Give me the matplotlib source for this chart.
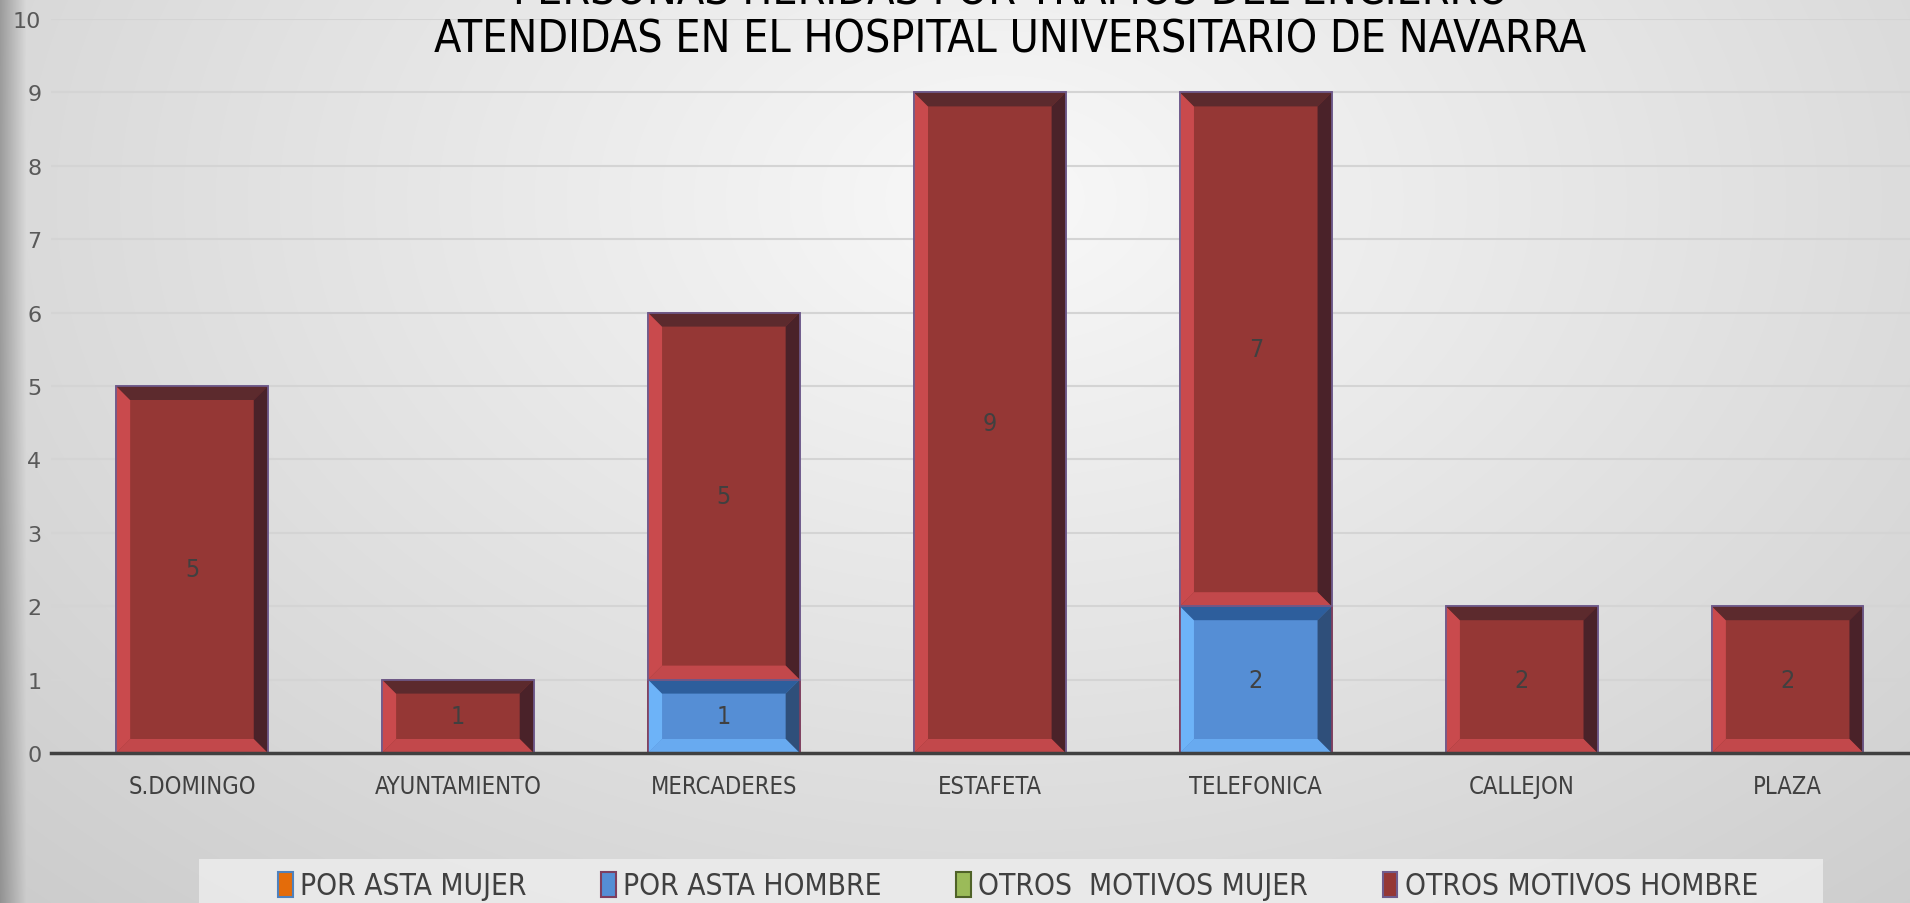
import numpy as np
import matplotlib
matplotlib.use('Agg')
import matplotlib.pyplot as plt
from matplotlib.patches import Polygon, Rectangle
from matplotlib import font_manager

categories = ['S.DOMINGO', 'AYUNTAMIENTO', 'MERCADERES', 'ESTAFETA',
              'TELEFONICA', 'CALLEJON', 'PLAZA']
por_asta_mujer = [0, 0, 0, 0, 0, 0, 0]
por_asta_hombre = [0, 0, 1, 0, 2, 0, 0]
otros_mujer = [0, 0, 0, 0, 0, 0, 0]
otros_hombre = [5, 1, 5, 9, 7, 2, 2]

series_names = ['POR ASTA MUJER', 'POR ASTA HOMBRE', 'OTROS  MOTIVOS MUJER', 'OTROS MOTIVOS HOMBRE']
title_lines = ['PERSONAS HERIDAS POR TRAMOS DEL ENCIERRO',
               'ATENDIDAS EN EL HOSPITAL UNIVERSITARIO DE NAVARRA']

# face, left, top, right, bottom, edge
styles = [
    ('#e46c0a', '#f79646', '#8a3f05', '#6b3004', '#f5a060', '#4f81bd'),
    ('#558ed5', '#6db3f8', '#2d5e9c', '#2f4f7a', '#68aaf0', '#7f3f5f'),
    ('#9bbb59', '#b5d26f', '#5d7a2a', '#4e6624', '#b0cd6a', '#4f6228'),
    ('#953735', '#c94a4d', '#5c2a2d', '#4a2229', '#c2484b', '#6f5b8c'),
]

# condensed face for the labels, if there is one
cond = [f for f in font_manager.fontManager.ttflist
        if 'condensed' in str(f.stretch).lower() or 'narrow' in f.name.lower()
        or 'condensed' in f.name.lower()]
fam = cond[0].name if cond else 'DejaVu Sans'
stretch = cond[0].stretch if cond else 'normal'
plt.rcParams['font.family'] = [fam, 'DejaVu Sans']
plt.rcParams['font.stretch'] = stretch

W, H = 1910, 904
fig = plt.figure(figsize=(W / 100, H / 100), dpi=100)

# background gradient
bg_ax = fig.add_axes([0, 0, 1, 1], zorder=-10)
yy, xx = np.mgrid[0:H, 0:W]
r = np.sqrt(((xx - 1000) / 1300.0) ** 2 + ((yy - 200) / 900.0) ** 2)
val = 0.975 - 0.16 * np.clip(r, 0, 1.3)
edge = np.clip(xx / 26.0, 0, 1)
val = val * (0.72 + 0.28 * edge)
bg_ax.imshow(np.dstack([val, val, val]), extent=[0, W, 0, H], aspect='auto')
bg_ax.add_patch(Rectangle((199, 0), 1624, 44, facecolor='#eeeeee', edgecolor='none', alpha=0.8))
bg_ax.set_xlim(0, W)
bg_ax.set_ylim(0, H)
bg_ax.axis('off')

ax = fig.add_axes([51 / W, 150 / H, 1 - 51 / W, 734 / H])
ax.set_facecolor('none')
ax.set_xlim(-0.53, 6.46)
ax.set_ylim(0, 10)

x = np.arange(len(categories))
series = [por_asta_mujer, por_asta_hombre, otros_mujer, otros_hombre]
bottom = np.zeros(len(categories))
width = 0.57

inv = ax.transData.inverted()
p0 = inv.transform((0, 0))
p1 = inv.transform((14, 14))
dx, dy = p1[0] - p0[0], p1[1] - p0[1]

for vals, st in zip(series, styles):
    vals = np.array(vals, dtype=float)
    bars = ax.bar(x, vals, width, bottom=bottom, color=st[0], edgecolor=st[5],
                  linewidth=1.2, zorder=3)
    for b, v in zip(bars, vals):
        if v == 0:
            continue
        x0, y0 = b.get_x(), b.get_y()
        x1, y1 = x0 + b.get_width(), y0 + b.get_height()
        polys = [
            ([(x0, y0), (x0 + dx, y0 + dy), (x0 + dx, y1 - dy), (x0, y1)], st[1]),
            ([(x0, y1), (x1, y1), (x1 - dx, y1 - dy), (x0 + dx, y1 - dy)], st[2]),
            ([(x1, y0), (x1, y1), (x1 - dx, y1 - dy), (x1 - dx, y0 + dy)], st[3]),
            ([(x0, y0), (x1, y0), (x1 - dx, y0 + dy), (x0 + dx, y0 + dy)], st[4]),
        ]
        for pts, c in polys:
            ax.add_patch(Polygon(pts, closed=True, facecolor=c, edgecolor='none', zorder=4))
        ax.add_patch(Rectangle((x0, y0), x1 - x0, y1 - y0, facecolor='none',
                               edgecolor=st[5], linewidth=1.2, zorder=5))
        ax.text(b.get_x() + b.get_width() / 2, y0 + v / 2, f'{int(v)}', ha='center',
                va='center', fontsize=18, color='#404040', zorder=6)
    bottom += vals

ax.set_yticks(range(0, 11))
ax.set_xticks(x)
ax.set_xticklabels(categories)
ax.tick_params(axis='x', length=0, pad=15, labelsize=17, labelcolor='#404040')
ax.tick_params(axis='y', length=0, pad=7, labelsize=16, labelcolor='#595959')
for lab in ax.get_yticklabels():
    lab.set_fontfamily('DejaVu Sans')
    lab.set_fontstretch('normal')
ax.grid(axis='y', color='#d4d4d4', linewidth=1.5, zorder=0)
ax.set_axisbelow(True)
for s in ['top', 'right', 'left']:
    ax.spines[s].set_visible(False)
ax.spines['bottom'].set_color('#404040')
ax.spines['bottom'].set_linewidth(2.5)
ax.spines['bottom'].set_zorder(7)

fig.text(0.529, 1 + 8 / H, title_lines[0], ha='center', va='center', fontsize=32, color='black')
fig.text(0.529, 1 - 40 / H, title_lines[1], ha='center', va='center', fontsize=32, color='black')

handles = [Rectangle((0, 0), 1, 1, facecolor=st[0], edgecolor=st[5], linewidth=1.5) for st in styles]
fig.legend(handles, series_names, loc='center', bbox_to_anchor=(0.533, 17 / H), ncol=4,
           frameon=False, fontsize=21.4, handlelength=0.5, handleheight=0.9,
           handletextpad=0.25, columnspacing=2.5, labelcolor='#404040')

fig.savefig('out.png', dpi=100)
